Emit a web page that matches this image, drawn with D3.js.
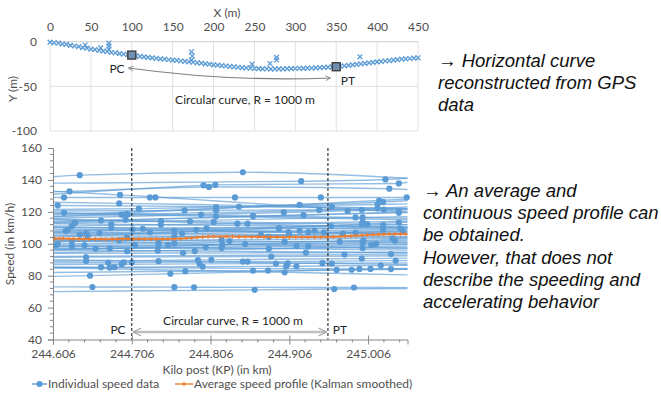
<!DOCTYPE html>
<html><head><meta charset="utf-8">
<script src="https://cdn.jsdelivr.net/npm/d3@7"></script>
<style>
body{margin:0;background:#fff;}
svg{display:block;}
</style></head>
<body>
<script>
// ---------- DATA ----------
const topXTicks = [0,50,100,150,200,250,300,350,400,450];
const topYTicks = [0,-50,-100];
const gpsX = [0,5,10,15,20,25,30,35,40,45,50,55,60,65,70,75,80,85,90,95,100,105,110,115,120,125,130,135,140,145,150,155,160,165,170,175,180,185,190,195,200,205,210,215,220,225,230,235,240,245,250,255,260,265,270,275,280,285,290,295,300,305,310,315,320,325,330,335,340,345,350,355,360,365,370,375,380,385,390,395,400,405,410,415,420,425,430,435,440,445,450,
  43,62,72,72,72,173,174,173,247,269,277,277,379];
const gpsY = [-0.5,-1.2,-1.5,-2.6,-3.0,-4.1,-4.8,-5.5,-6.6,-7.2,-8.4,-8.9,-9.8,-10.6,-11.0,-12.1,-12.4,-13.3,-13.8,-14.6,-15.0,-15.8,-16.4,-17.0,-17.5,-18.1,-18.6,-19.2,-19.6,-20.2,-20.6,-21.0,-21.6,-22.0,-22.5,-23.0,-23.6,-24.1,-24.8,-25.2,-25.9,-26.3,-26.8,-27.2,-27.7,-28.1,-28.6,-29.0,-29.4,-29.7,-30.0,-30.1,-30.4,-30.3,-30.6,-30.5,-30.4,-30.5,-30.2,-30.1,-30.0,-29.8,-29.9,-29.6,-29.5,-29.3,-29.0,-28.8,-28.5,-28.2,-27.9,-27.5,-27.0,-26.5,-26.0,-25.5,-24.9,-24.3,-23.7,-23.1,-22.6,-22.1,-21.6,-21.1,-20.6,-20.1,-19.6,-19.2,-18.8,-18.4,-18.0,
  -3.7,-7.0,-1.5,-5.0,-8.5,-11.3,-16.0,-20.6,-25.0,-24.4,-17.6,-20.5,-16.9];
const pcPoint = [100,-15];
const ptPoint = [350,-28];

const kpTicks = [244.606,244.706,244.806,244.906,245.006];
const speedTicks = [40,60,80,100,120,140,160];
const kpPC = 244.706, kpPT = 244.955;

// each run: [speed at start, speed at end, [[kp, speed], ...measured points]]
const runs = [
 [142,141,[[244.640,143.0],[244.847,144.8]]],
 [138,141,[[244.921,139.2],[245.028,140.3]]],
 [131,138.5,[[244.797,136.6],[244.812,136.9],[245.045,137.8]]],
 [132.5,134,[[244.627,132.8],[244.804,135.6],[245.033,134.5]]],
 [129,129,[[244.620,129],[244.729,129],[244.736,129],[244.837,129],[244.946,129],[245.055,129]]],
 [133,120,[[244.691,130.6],[245.045,120.2]]],
 [124,122,[[244.612,124],[244.842,123.2]]],
 [118,127,[[244.919,124.4],[245.025,126.2]]],
 [121.5,125,[[244.715,122.0],[244.813,123.0],[245.018,124.6]]],
 [117,123,[[244.693,118.2],[245.018,122.2]]],
 [120.5,121.5,[[244.773,120.9],[244.813,121.0],[244.944,121.2],[244.998,121.3],[245.026,121.4]]],
 [116,121.5,[[244.794,118.3],[244.899,119.6],[244.980,120.6]]],
 [114,119.5,[[244.698,115.1],[244.924,117.9],[245.045,119.4]]],
 [115,112,[[244.667,114.6],[244.780,114.0],[244.810,113.7],[245.005,112.3]]],
 [113,117,[[244.634,113.2],[244.743,114.2],[244.999,116.5]]],
 [111,114,[[244.630,111.2],[244.853,112.6],[244.999,113.6]]],
 [110,109.5,[[244.680,110],[244.893,109.8],[245.047,109.5]]],
 [108,112,[[244.622,108.1],[244.707,109],[244.801,109.7],[244.959,111.1],[245.025,111.7]]],
 [106.5,109,[[244.648,106.7],[244.729,107.2],[244.919,108.2],[244.938,108.3],[245.025,108.8]]],
 [112.5,110.5,[[244.680,112.2],[244.743,111.9]]],
 [107.5,110.5,[[244.788,108.7],[244.893,109.4]]],
 [105,104,[[244.650,105],[244.760,104.7],[244.880,104.4]]],
 [103,107,[[244.700,103.8],[244.974,106.3]]],
 [101.5,103.5,[[244.630,101.6],[244.820,102.5],[245.037,103.4]]],
 [100,102,[[244.612,100],[244.740,100.6],[244.900,101.3],[245.040,101.9]]],
 [99,100,[[244.610,99],[244.646,99.1],[244.710,99.2],[244.740,99.3],[244.752,99.3],[245.016,99.9]]],
 [98,101,[[244.821,99.4],[244.999,100.6]]],
 [97,97.5,[[244.678,97.1],[244.999,97.4]]],
 [96,94.5,[[244.739,95.6],[244.786,95.4]]],
 [94,94.5,[[244.771,94.2],[244.927,94.4]]],
 [92,93.5,[[244.976,93.2],[245.035,93.5]]],
 [91.5,92.5,[[244.648,91.6],[244.883,92.0]]],
 [89,91,[[244.648,89.2],[244.790,89.8],[244.807,89.9],[244.998,90.7]]],
 [88,89.5,[[244.676,88.2],[244.696,88.3],[244.706,88.3],[244.847,88.8],[244.853,88.8],[245.041,89.4]]],
 [87,88,[[244.693,87.2],[244.792,87.4],[244.889,87.6],[244.904,87.7],[244.948,87.8]]],
 [85,86.5,[[244.667,85.2],[244.684,85.3],[244.796,85.6],[244.902,85.9],[244.915,85.9],[245.022,86.4]]],
 [85.5,84,[[244.678,85.1],[244.995,84.2],[245.009,84.2],[245.035,84.1]]],
 [82,84,[[244.774,82.8],[244.860,83.1],[244.879,83.2],[244.966,83.6],[244.985,83.7]]],
 [79.5,84.5,[[244.653,80],[244.755,81.2]]],
 [85,80.5,[[244.900,82.1]]],
 [73,72.5,[[244.656,72.9],[244.760,72.8],[244.785,72.7],[244.988,72.6]]],
 [70,72,[[244.862,71.1],[244.963,71.6]]],
 [119,115,[[244.700,118.2],[244.813,117.2]]],
 [115.5,110,[[244.840,112.6]]],
 [104,113.5,[[244.998,112.3],[245.045,113.3]]],
 [96,103,[[244.850,99.8],[245.000,102.1]]],
 [102,97,[[244.760,100.3],[244.930,98.4]]],
 [117,128,[[245.020,127.1]]],
 [126,122,[[244.690,125.3],[244.960,123.1]]],
 [110.5,106,[[244.720,109.4],[244.950,107.1]]],
 [107,104.5,[[244.665,106.7],[244.870,105.5]]],
 [94.5,98.5,[[244.700,95.3],[244.880,96.9]]],
 [90,87,[[244.740,89.1],[244.960,87.6]]],
 [98.5,96,[[244.630,98.4],[244.820,97.3]]],
 [113.5,120,[[244.860,117.2]]],
 [101,108,[[244.906,105.7]]],
 [119.5,116,[[244.620,119.4],[244.700,118.8],[244.860,117.5],[244.990,116.5]]],
 [105.5,108,[[244.640,105.7],[244.770,106.4],[244.930,107.3],[245.050,108]]],
 [102.5,101,[[244.690,102.2],[244.830,101.7],[244.970,101.3]]],
 [109,106.5,[[244.625,108.9],[244.760,108.1],[244.905,107.3],[244.990,106.8]]],
 [96.5,99.5,[[244.660,96.9],[244.800,97.8],[244.915,98.6],[245.010,99.2]]]
];

const avgKP = [244.608,244.614,244.619,244.626,244.632,244.639,244.645,244.652,244.660,244.667,244.673,244.681,244.688,244.694,244.701,244.708,244.715,244.722,244.730,244.737,244.745,244.752,244.760,244.768,244.775,244.782,244.789,244.796,244.803,244.810,244.818,244.826,244.834,244.842,244.850,244.858,244.866,244.874,244.882,244.890,244.898,244.906,244.914,244.922,244.930,244.938,244.946,244.954,244.962,244.970,244.977,244.984,244.991,244.998,245.005,245.012,245.019,245.026,245.033,245.040,245.047,245.054];
const avgSpeed = [103.3,103.2,103.3,103.1,103.2,103.0,103.1,102.9,103.0,102.9,102.8,103.0,102.9,103.1,103.2,103.0,103.1,102.9,103.0,103.0,102.9,103.1,103.0,103.2,103.4,103.7,104.0,104.3,104.5,104.6,104.5,104.6,104.5,104.4,104.5,104.3,104.4,104.3,104.2,104.3,104.2,104.1,104.2,104.1,104.2,104.1,104.2,104.3,104.4,104.5,104.7,104.9,105.1,105.3,105.5,105.7,105.8,105.9,106.0,106.0,106.1,106.0];

const noteTop = ["\u2192 Horizontal curve","reconstructed from GPS","data"];
const noteBottom = ["\u2192 An average and","continuous speed profile can","be obtained.","However, that does not","describe the speeding and","accelerating behavior"];

// ---------- DRAW ----------
const W=661,H=395;
const blue="#5B9BD5", orange="#ED7D31", txt="#505050", font="Lato, 'Open Sans', sans-serif", fs="12px";
const svg=d3.select("body").append("svg").attr("width",W).attr("height",H).style("font-family",font);
const defs=svg.append("defs");
defs.append("marker").attr("id","arrT").attr("viewBox","0 0 10 10").attr("refX",9).attr("refY",5)
   .attr("markerWidth",6).attr("markerHeight",6).attr("markerUnits","userSpaceOnUse").attr("orient","auto-start-reverse")
   .append("path").attr("d","M1,1 L9,5 L1,9").attr("fill","none").attr("stroke","#7F7F7F").attr("stroke-width",1.4);
defs.append("marker").attr("id","arrB").attr("viewBox","0 0 10 10").attr("refX",9).attr("refY",5)
   .attr("markerWidth",10).attr("markerHeight",10).attr("markerUnits","userSpaceOnUse").attr("orient","auto-start-reverse")
   .append("path").attr("d","M1,1 L9,5 L1,9").attr("fill","none").attr("stroke","#A6A6A6").attr("stroke-width",1.3);

// ===== TOP CHART =====
const xT=d3.scaleLinear().domain([0,450]).range([50,418]);
const yT=d3.scaleLinear().domain([-100,0]).range([131,41.7]);
const gT=svg.append("g");
gT.selectAll(".vg").data(topXTicks).join("line").attr("x1",d=>xT(d)).attr("x2",d=>xT(d))
  .attr("y1",yT(0)).attr("y2",yT(-100)).attr("stroke","#D9D9D9").attr("stroke-width",0.8);
gT.selectAll(".hg").data(topYTicks).join("line").attr("x1",xT(0)).attr("x2",xT(450))
  .attr("y1",d=>yT(d)).attr("y2",d=>yT(d)).attr("stroke",d=>d===0?"#BFBFBF":"#D9D9D9").attr("stroke-width",0.8);
const axT=gT.append("g").attr("transform",`translate(0,${yT(0)})`)
  .call(d3.axisTop(xT).tickValues(topXTicks).tickSize(0).tickPadding(11));
axT.select(".domain").remove();
axT.selectAll("text").attr("fill",txt).style("font-size",fs).style("font-family",font);
const ayT=gT.append("g").attr("transform",`translate(${xT(0)},0)`)
  .call(d3.axisLeft(yT).tickValues(topYTicks).tickSize(0).tickPadding(13).tickFormat(d=>String(d)));
ayT.select(".domain").remove();
ayT.selectAll("text").attr("fill",txt).style("font-size",fs).style("font-family",font);
gT.append("text").attr("x",227).attr("y",17).attr("text-anchor","middle").attr("fill",txt).style("font-size",fs).text("X (m)");
gT.append("text").attr("transform","translate(17,89) rotate(-90)").attr("text-anchor","middle").attr("fill",txt).style("font-size",fs).text("Y (m)");
const gpsPts=gpsX.map((x,i)=>[x,gpsY[i]]);
gT.append("g").selectAll("path").data(gpsPts).join("path")
  .attr("d",d=>{const px=xT(d[0]),py=yT(d[1]),s=2.4;return `M${px-s},${py-s}L${px+s},${py+s}M${px-s},${py+s}L${px+s},${py-s}`;})
  .attr("stroke",blue).attr("stroke-width",1.3).attr("fill","none");
gT.selectAll(".sq").data([pcPoint,ptPoint]).join("rect")
  .attr("x",d=>xT(d[0])-4).attr("y",d=>yT(d[1])-4).attr("width",8).attr("height",8)
  .attr("fill","#6E8FB0").attr("stroke","#404040").attr("stroke-width",1.4);
gT.append("path").attr("d",`M${xT(96)},68 Q${xT(220)},82 ${xT(343)},78`).attr("fill","none")
  .attr("stroke","#7F7F7F").attr("stroke-width",1.2).attr("marker-start","url(#arrT)").attr("marker-end","url(#arrT)");
gT.append("text").attr("x",117).attr("y",73).attr("text-anchor","middle").attr("fill","#262626").style("font-size",fs).text("PC");
gT.append("text").attr("x",348).attr("y",85).attr("text-anchor","middle").attr("fill","#262626").style("font-size",fs).text("PT");
gT.append("text").attr("x",245).attr("y",104).attr("text-anchor","middle").attr("fill","#262626").style("font-size",fs).text("Circular curve, R = 1000 m");

// ===== BOTTOM CHART =====
const xB=d3.scaleLinear().domain([244.606,245.056]).range([53,407.5]);
const yB=d3.scaleLinear().domain([40,160]).range([339.5,148]);
const gB=svg.append("g");
const line=d3.line().x(d=>xB(d[0])).y(d=>yB(d[1])).curve(d3.curveMonotoneX);
gB.append("g").selectAll("path").data(runs).join("path")
  .attr("d",r=>line([[244.606,r[0]],...r[2],[245.056,r[1]]]))
  .attr("fill","none").attr("stroke",blue).attr("stroke-width",1.4).attr("stroke-opacity",0.65);
const dots=runs.flatMap(r=>r[2]);
gB.append("g").selectAll("circle").data(dots).join("circle")
  .attr("cx",d=>xB(d[0])).attr("cy",d=>yB(d[1])).attr("r",3.1).attr("fill",blue);
// average
const avg=avgKP.map((k,i)=>[k,avgSpeed[i]]);
gB.append("path").attr("d",d3.line().x(d=>xB(d[0])).y(d=>yB(d[1]))(avg))
  .attr("fill","none").attr("stroke",orange).attr("stroke-width",1.8);
gB.append("g").selectAll("path").data(avg).join("path")
  .attr("d",d=>{const px=xB(d[0]),py=yB(d[1]);return `M${px-2.2},${py}L${px+2.2},${py}M${px},${py-2.2}L${px},${py+2.2}`;})
  .attr("stroke",orange).attr("stroke-width",1.1);
// PC/PT dashed
gB.selectAll(".dl").data([kpPC,kpPT]).join("line").attr("x1",d=>xB(d)).attr("x2",d=>xB(d))
  .attr("y1",yB(160)).attr("y2",yB(40)).attr("stroke","#262626").attr("stroke-width",1.1).attr("stroke-dasharray","3,2");
// axes
const axCol="#868686";
const yAx=gB.append("g").attr("transform",`translate(${xB.range()[0]},0)`)
  .call(d3.axisLeft(yB).tickValues(speedTicks).tickSize(5).tickPadding(6));
yAx.select(".domain").attr("stroke",axCol);
yAx.selectAll(".tick line").attr("stroke",axCol);
yAx.selectAll("text").attr("fill",txt).style("font-size",fs).style("font-family",font).attr("dy","0.3em");
const yMinor=d3.range(40,160.1,4).filter(v=>v%20!==0);
gB.selectAll(".ym").data(yMinor).join("line").attr("x1",xB.range()[0]-3).attr("x2",xB.range()[0])
  .attr("y1",d=>yB(d)).attr("y2",d=>yB(d)).attr("stroke",axCol);
const xAx=gB.append("g").attr("transform",`translate(0,${yB(40)})`)
  .call(d3.axisBottom(xB).tickValues(kpTicks).tickSize(5).tickPadding(5).tickFormat(d3.format(".3f")));
xAx.select(".domain").attr("stroke",axCol);
xAx.selectAll(".tick line").attr("stroke",axCol).attr("y1",-4);
xAx.selectAll("text").attr("fill",txt).style("font-size",fs).style("font-family",font);
const xMinor=d3.range(0,23).map(i=>244.606+i*0.02).filter((v,i)=>i%5!==0);
gB.selectAll(".xm").data(xMinor).join("line").attr("x1",d=>xB(d)).attr("x2",d=>xB(d))
  .attr("y1",yB(40)).attr("y2",yB(40)+3).attr("stroke",axCol);
gB.append("text").attr("transform","translate(14,244) rotate(-90)").attr("text-anchor","middle").attr("fill",txt).style("font-size",fs).text("Speed (in km/h)");
gB.append("text").attr("x",217).attr("y",374).attr("text-anchor","middle").attr("fill",txt).style("font-size",fs).text("Kilo post (KP) (in km)");
// curve annotation
gB.append("line").attr("x1",xB(kpPC)+1.5).attr("x2",xB(kpPT)-1.5).attr("y1",332).attr("y2",332)
  .attr("stroke","#BFBFBF").attr("stroke-width",2.5).attr("marker-start","url(#arrB)").attr("marker-end","url(#arrB)");
gB.append("text").attr("x",118).attr("y",334).attr("text-anchor","middle").attr("fill","#262626").style("font-size",fs).text("PC");
gB.append("text").attr("x",340).attr("y",334).attr("text-anchor","middle").attr("fill","#262626").style("font-size",fs).text("PT");
gB.append("text").attr("x",233).attr("y",325).attr("text-anchor","middle").attr("fill","#262626").style("font-size",fs).text("Circular curve, R = 1000 m");
// legend
const lg=svg.append("g").style("font-size",fs);
lg.append("line").attr("x1",32).attr("x2",47).attr("y1",384).attr("y2",384).attr("stroke",blue).attr("stroke-width",1.4);
lg.append("circle").attr("cx",39.5).attr("cy",384).attr("r",3).attr("fill",blue);
lg.append("text").attr("x",48).attr("y",388).attr("fill",txt).text("Individual speed data");
lg.append("line").attr("x1",175).attr("x2",193).attr("y1",384).attr("y2",384).attr("stroke",orange).attr("stroke-width",1.4);
lg.append("path").attr("d","M184,381.5L184,386.5M181.5,384L186.5,384").attr("stroke",orange).attr("stroke-width",1.1);
lg.append("text").attr("x",194).attr("y",388).attr("fill",txt).text("Average speed profile (Kalman smoothed)");

// notes
const nf="'Liberation Sans', Arial, sans-serif";
svg.append("g").selectAll("text").data(noteTop).join("text")
  .attr("x",438).attr("y",(d,i)=>67+i*22).attr("fill","#111").style("font-family",nf)
  .style("font-style","italic").style("font-size","18.5px").text(d=>d);
svg.append("g").selectAll("text").data(noteBottom).join("text")
  .attr("x",423).attr("y",(d,i)=>197+i*22.2).attr("fill","#111").style("font-family",nf)
  .style("font-style","italic").style("font-size","18.5px").text(d=>d);
</script>
</body></html>
